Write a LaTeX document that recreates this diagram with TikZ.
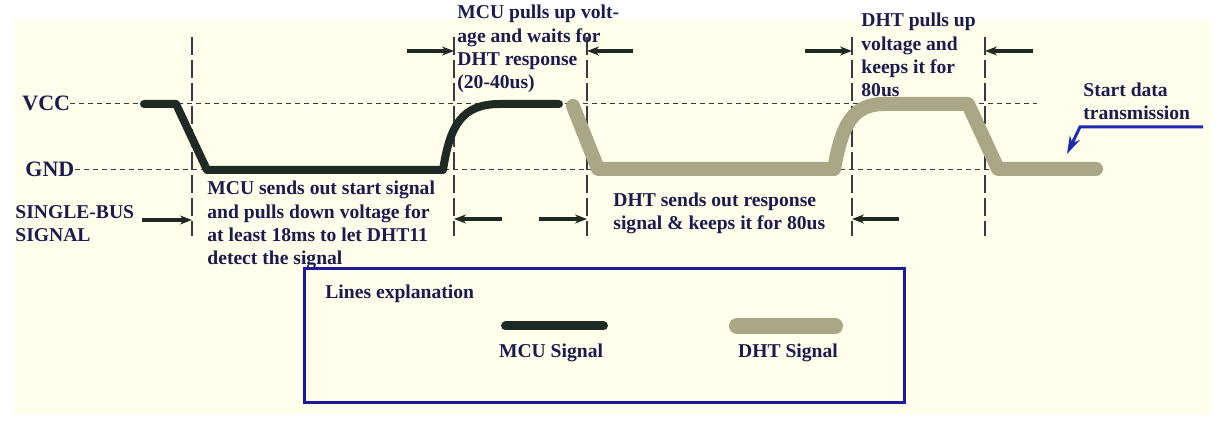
\documentclass[tikz,border=0pt]{standalone}
\usepackage{fontspec}
\setmainfont{Liberation Serif}
\usepackage{xcolor}
\definecolor{cream}{HTML}{FFFFEC}
\definecolor{ink}{HTML}{1B1B4F}
\definecolor{mcu}{HTML}{1F2A25}
\definecolor{dht}{HTML}{A9A786}
\definecolor{rule}{HTML}{3A3A44}
\definecolor{royal}{HTML}{1C2BB0}
\definecolor{frame}{HTML}{1A1A9A}
\usepackage{tikz}
\usetikzlibrary{arrows.meta}
\tikzset{
  lbl/.style     ={font=\fontsize{9.8}{11.7}\selectfont\bfseries,text=ink,
                   inner sep=0pt,align=left,anchor=base west},
  lvl/.style     ={font=\fontsize{11}{13}\selectfont\bfseries,text=ink,
                   inner sep=0pt,anchor=base west},
  railline/.style={draw=rule,line width=0.6pt,dash pattern=on 2.5pt off 2pt},
  divider/.style ={draw=rule,line width=0.65pt,dash pattern=on 9pt off 2.5pt},
  dimarrow/.style={-{Stealth[length=6pt,width=4.5pt]},draw=mcu,line width=1.75pt},
  mcuwave/.style ={draw=mcu,line width=4pt,line cap=round,line join=round},
  dhtwave/.style ={draw=dht,line width=7pt,line cap=round,line join=round},
  legendbox/.style={draw=frame,line width=1.5pt,fill=cream,inner sep=0pt,
                   minimum width=299.7pt,minimum height=67pt},
}
\begin{document}
\begin{tikzpicture}[x=0.5pt,y=-0.5pt]
\useasboundingbox (0,0) rectangle (1228,437);
\fill[cream] (14,19) rectangle (1210,414);
% supply levels
\node[lvl] (vcc) at (22,111) {VCC};
\node[lvl] (gnd) at (25,177) {GND};
\draw[railline] (vcc.east) -- (vcc.east -| 1037,0);
\draw[railline] (gnd.east) -- (gnd.east -| 1035,0);
\foreach \x in {192,454,587,852,985} \draw[divider] (\x,37) -- (\x,236);
% the two waveforms
\draw[mcuwave] (144,104) -- (176,104) -- (207,170) -- (443,170)
  .. controls (450,125) and (462,104) .. (500,104) -- (559,104);
\draw[dhtwave] (573,106) -- (598,169) -- (834,169)
  .. controls (842,125) and (852,104) .. (885,104) -- (968,104)
  -- (998,169) -- (1096,169);
\foreach \a/\b/\y in {142/192/220,502/454/219,539/587/219,899/852/219,
                      407/454/51,633/587/51,805/852/51,1033/985/51}
  \draw[dimarrow] (\a,\y) -- (\b,\y);
% texts are placed by the baseline of their last line
\node[lbl] (bus) at (15,242) {SINGLE-BUS\\SIGNAL};
\node[lbl] (start) at (207,265) {MCU sends out start signal\\and pulls down voltage for\\at least 18ms to let DHT11\\detect the signal};
\node[lbl] (pullup) at (457,89) {MCU pulls up volt-\\age and waits for\\DHT response\\(20-40us)};
\node[lbl] (resp) at (613,230) {DHT sends out response\\signal \& keeps it for 80us};
\node[lbl] (hold) at (861,97) {DHT pulls up\\voltage and\\keeps it for\\80us};
\node[lbl] (data) at (1083,120) {Start data\\transmission};
\coordinate (datatip) at (1067,154);
\draw[-{Stealth[length=9pt,width=5.5pt]},draw=royal,line width=1.5pt]
  (1203,127) -- (1080,127) -- (datatip);
% legend
\node[legendbox] (legend) at (604.3,336) {};
\node[lbl] (legtitle) at (325,299) {Lines explanation};
\draw[mcuwave,line width=4.5pt] (505.5,326) -- (603.5,326);
\draw[dhtwave,line width=8pt] (737,326) -- (835,326);
\node[lbl,anchor=base] (mculbl) at (551,358) {MCU Signal};
\node[lbl,anchor=base] (dhtlbl) at (788,358) {DHT Signal};
\end{tikzpicture}
\end{document}
